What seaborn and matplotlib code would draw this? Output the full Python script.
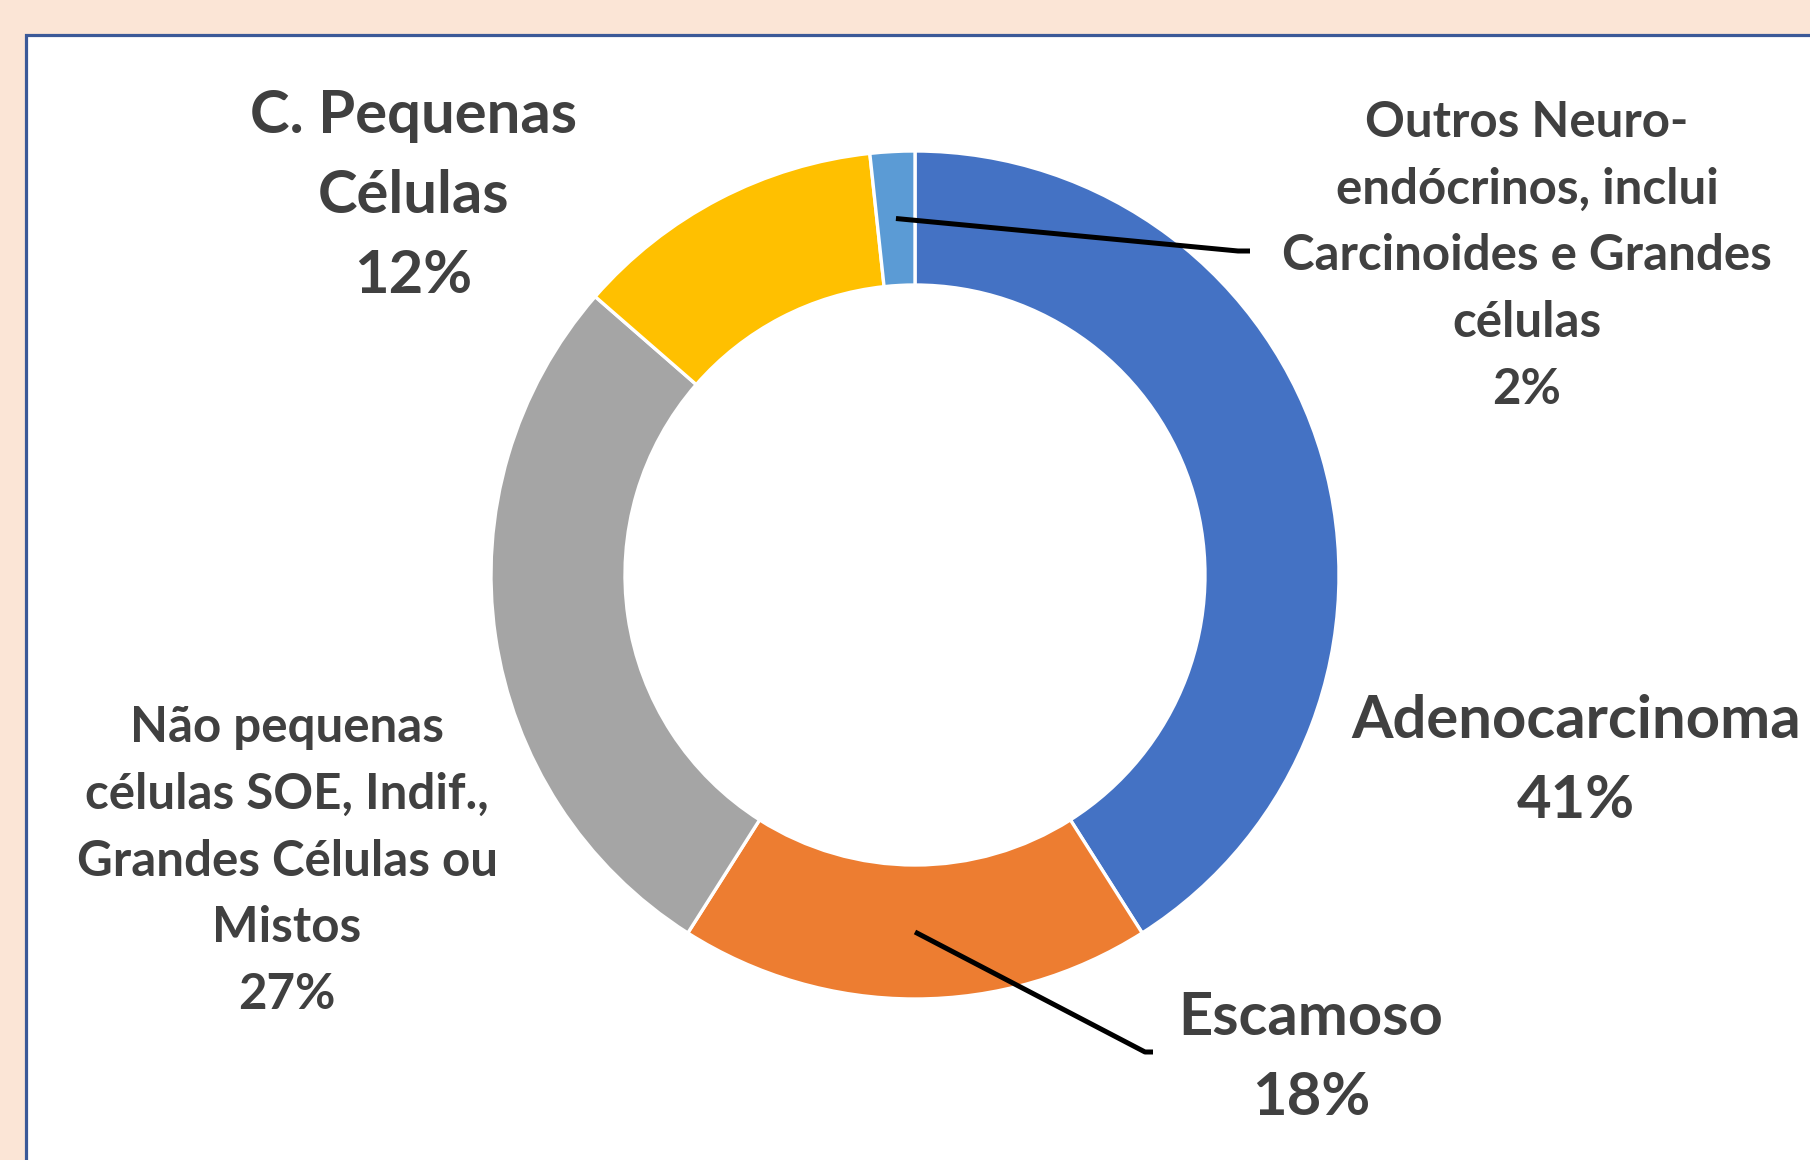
import numpy as np
import matplotlib
matplotlib.use('Agg')
import matplotlib.pyplot as plt
import seaborn as sns
from matplotlib.patches import Rectangle

# Data
categories = ['Adenocarcinoma', 'Escamoso',
              'Não pequenas\ncélulas SOE, Indif.,\nGrandes Células ou\nMistos',
              'C. Pequenas\nCélulas',
              'Outros Neuro-\nendócrinos, inclui\nCarcinoides e Grandes\ncélulas']
percent = [41.0, 18.0, 27.4, 11.9, 1.7]
colors = ['#4472C4', '#ED7D31', '#A5A5A5', '#FFC000', '#5B9BD5']

# Layout (pixel coords, y measured from top)
W, H = 1810, 1160
CX, CY = 915, 575
R_OUT, R_IN = 424, 290
label_pos = [(1576, 761), (1311, 1058), (287, 861), (413, 196), (1527, 256)]
label_size = [43, 43, 35.5, 43, 35.5]
label_spacing = [1.585, 1.585, 1.59, 1.585, 1.59]
leader_end = {1: [(1145, 1052), (1153, 1052)], 4: [(1238, 251), (1250, 251)]}

sns.set_theme(style='white')
plt.rcParams['font.family'] = ['Lato', 'DejaVu Sans']

fig = plt.figure(figsize=(W / 100, H / 100), dpi=100)
fig.patch.set_facecolor('#FBE5D6')
ax = fig.add_axes([0, 0, 1, 1])

# white panel with blue frame
ax.add_patch(Rectangle((26, -20), W, H - 35 + 20, facecolor='white',
                       edgecolor='#3B5998', linewidth=2.3, zorder=0))

wedges, _ = ax.pie(percent, colors=colors, startangle=90, counterclock=False,
                   center=(CX, H - CY), radius=R_OUT, frame=True,
                   wedgeprops=dict(width=R_OUT - R_IN, edgecolor='white', linewidth=2.4))
ax.set_xlim(0, W)
ax.set_ylim(0, H)
ax.set_aspect('equal')
ax.axis('off')

# labels
for i, (name, p) in enumerate(zip(categories, percent)):
    x, y = label_pos[i]
    ax.text(x, H - y, f'{name}\n{p:.0f}%', ha='center', va='center',
            fontsize=label_size[i], fontweight='bold', color='#404040',
            linespacing=label_spacing[i], zorder=5)

# leader lines from the middle of the ring
r_mid = (R_OUT + R_IN) / 2
total = sum(percent)
start = 90
for i, p in enumerate(percent):
    span = p / total * 360
    mid = start - span / 2
    start -= span
    if i in leader_end:
        a = np.deg2rad(mid)
        xs = [CX + r_mid * np.cos(a)] + [pt[0] for pt in leader_end[i]]
        ys = [H - CY + r_mid * np.sin(a)] + [H - pt[1] for pt in leader_end[i]]
        ax.plot(xs, ys, color='black', linewidth=3.6, solid_capstyle='butt', zorder=4)

fig.savefig('out.png', dpi=100, facecolor=fig.get_facecolor())
